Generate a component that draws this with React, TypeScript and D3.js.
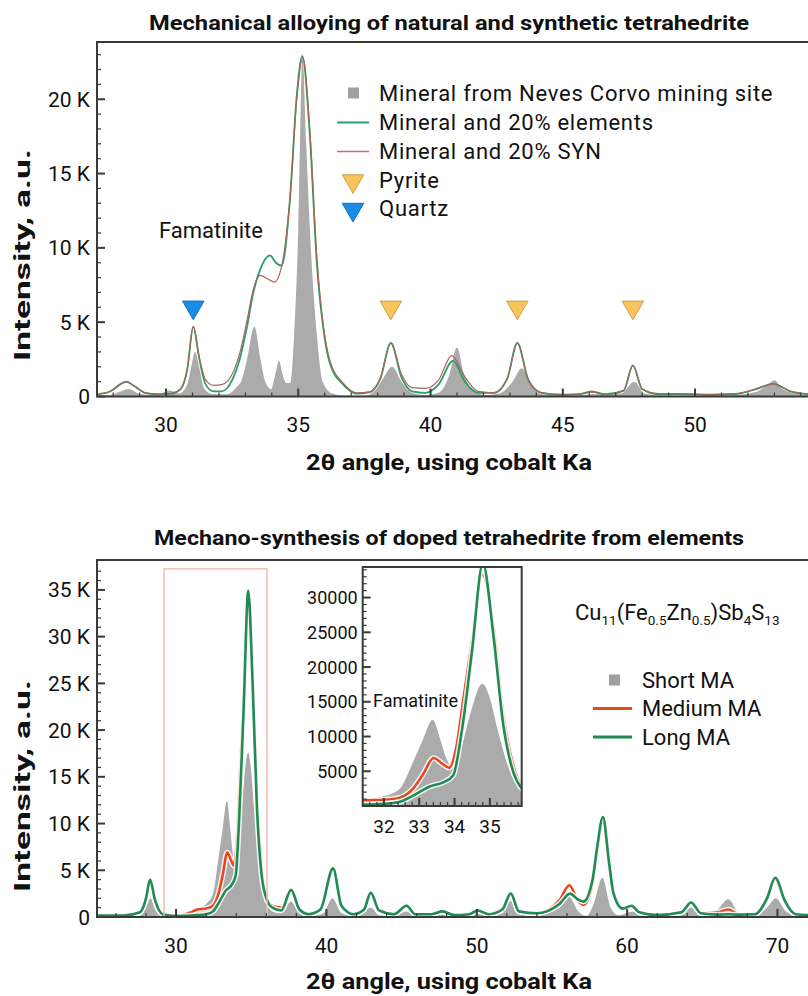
import React, { useRef, useEffect } from "react";
import * as d3 from "d3";

// ---- top panel: 2θ (deg) vs intensity (K counts) ----
const mineralNevesCorvo = [
  [27.4, 0.05], [27.9, 0.1], [28.3, 0.35], [28.6, 0.5], [28.95, 0.2], [29.4, 0.1], [29.8, 0.2], [30.15, 0.4],
  [30.5, 0.2], [30.8, 0.8], [30.95, 2.0], [31.1, 3.0], [31.25, 2.0], [31.45, 0.5], [31.8, 0.15], [32.3, 0.15],
  [32.7, 0.7], [32.86, 1.1], [33.05, 2.4], [33.34, 4.7], [33.58, 2.4], [33.75, 1.0], [33.97, 0.5], [34.12, 1.4],
  [34.27, 2.4], [34.42, 1.4], [34.55, 0.9], [34.69, 0.9], [34.85, 4.4], [35.0, 11.2], [35.16, 23.0], [35.3, 17],
  [35.44, 11.2], [35.69, 4.4], [35.92, 1.0], [36.3, 0.2], [36.8, 0.05], [37.5, 0.05], [37.9, 0.4], [38.2, 1.2],
  [38.55, 2.0], [38.9, 1.0], [39.3, 0.25], [39.8, 0.1], [40.3, 0.25], [40.7, 1.4], [41.0, 3.3], [41.25, 1.6],
  [41.6, 0.4], [42.1, 0.1], [42.6, 0.2], [43.1, 1.0], [43.45, 1.9], [43.8, 0.8], [44.2, 0.15], [45.0, 0.05],
  [46.1, 0.15], [47.2, 0.2], [47.7, 1.0], [48.1, 0.2], [48.8, 0.05], [51.0, 0.05], [52.3, 0.3], [52.75, 0.8],
  [53.0, 1.1], [53.3, 0.5], [53.8, 0.2], [54.3, 0.1],
];
const mineral20Elements = [
  [27.4, 0.15], [27.9, 0.35], [28.25, 0.8], [28.5, 1.0], [28.8, 0.7], [29.2, 0.25], [29.7, 0.15], [30.2, 0.2],
  [30.55, 0.5], [30.8, 1.8], [31.03, 4.7], [31.25, 2.6], [31.5, 0.8], [31.8, 0.35], [32.1, 0.35], [32.5, 1.1],
  [32.8, 2.6], [33.05, 4.6], [33.3, 7.0], [33.55, 8.5], [33.93, 9.5], [34.15, 9.0], [34.37, 8.8], [34.69, 13.4],
  [34.94, 20.2], [35.15, 22.9], [35.44, 17.5], [35.7, 9.0], [35.96, 4.4], [36.2, 2.2], [36.7, 0.8], [37.2, 0.2],
  [37.7, 0.3], [38.1, 1.2], [38.5, 3.6], [38.9, 1.3], [39.3, 0.35], [39.8, 0.25], [40.3, 0.8], [40.85, 2.4],
  [41.3, 1.0], [41.8, 0.25], [42.4, 0.25], [42.9, 1.2], [43.28, 3.6], [43.7, 1.1], [44.2, 0.25], [45.0, 0.1],
  [45.6, 0.15], [46.1, 0.35], [46.6, 0.15], [47.3, 0.4], [47.65, 2.1], [48.0, 0.5], [48.6, 0.15], [49.5, 0.15],
  [50.5, 0.1], [51.5, 0.15], [52.3, 0.5], [52.95, 0.85], [53.6, 0.35], [54.3, 0.15],
];
const mineral20Syn = [
  [27.4, 0.15], [27.9, 0.35], [28.25, 0.8], [28.5, 1.0], [28.8, 0.7], [29.2, 0.25], [29.7, 0.15], [30.2, 0.2],
  [30.55, 0.5], [30.8, 1.8], [31.03, 4.7], [31.25, 2.7], [31.5, 1.1], [31.8, 0.75], [32.1, 0.8], [32.5, 1.5],
  [32.8, 3.0], [33.05, 5.0], [33.3, 7.2], [33.55, 8.15], [33.85, 7.9], [34.1, 7.7], [34.35, 8.6], [34.69, 13.4],
  [34.94, 20.0], [35.17, 22.8], [35.44, 17.8], [35.7, 9.4], [35.96, 4.6], [36.2, 2.4], [36.7, 0.9], [37.2, 0.25],
  [37.7, 0.3], [38.1, 1.2], [38.5, 3.6], [38.9, 1.5], [39.3, 0.6], [39.8, 0.55], [40.3, 1.1], [40.8, 2.75],
  [41.3, 1.3], [41.8, 0.35], [42.4, 0.25], [42.9, 1.2], [43.28, 3.6], [43.7, 1.1], [44.2, 0.25], [45.0, 0.15],
  [45.6, 0.15], [46.1, 0.3], [46.6, 0.15], [47.3, 0.4], [47.65, 2.1], [48.0, 0.5], [48.6, 0.2], [49.5, 0.2],
  [50.5, 0.15], [51.5, 0.2], [52.3, 0.5], [52.95, 0.85], [53.6, 0.35], [54.3, 0.15],
];
const pyritePeaks = [38.5, 43.28, 47.65];
const quartzPeaks = [31.03];
const markerLevel = 6.0;
const topXTicks = [30, 35, 40, 45, 50];
const topYTicks = [0, 5, 10, 15, 20];
const topLegend = [
  "Mineral from Neves Corvo mining site",
  "Mineral and 20% elements",
  "Mineral and 20% SYN",
  "Pyrite",
  "Quartz",
];

// ---- bottom panel ----
const shortMA = [
  [24.7, 0.05], [26.0, 0.1], [27.5, 0.2], [28.0, 1.0], [28.3, 2.0], [28.6, 0.8], [29.2, 0.1], [30.5, 0.1],
  [31.0, 0.4], [31.4, 0.85], [32.0, 1.4], [32.45, 2.5], [32.83, 6.4], [33.1, 9.5], [33.38, 12.4], [33.6, 9.5],
  [33.77, 6.8], [34.0, 5.4], [34.2, 8.5], [34.43, 13.0], [34.79, 17.6], [35.0, 15.5], [35.19, 11.6], [35.57, 4.95],
  [35.94, 2.1], [36.4, 0.6], [37.0, 0.4], [37.65, 1.65], [38.2, 0.4], [39.0, 0.1], [39.8, 0.4], [40.4, 2.0],
  [41.0, 0.4], [42.0, 0.1], [42.95, 1.0], [43.5, 0.2], [44.5, 0.1], [45.33, 0.6], [46.0, 0.1], [47.0, 0.1],
  [47.7, 0.4], [48.5, 0.05], [49.3, 0.1], [50.06, 0.5], [50.7, 0.1], [51.7, 0.4], [52.26, 1.7], [52.8, 0.3],
  [54.0, 0.2], [55.5, 1.0], [56.1, 2.2], [56.8, 0.5], [57.3, 0.1], [57.8, 1.5], [58.35, 4.2], [58.9, 1.0],
  [59.4, 0.2], [60.44, 0.6], [61.0, 0.2], [62.5, 0.1], [63.6, 0.3], [64.26, 1.0], [64.9, 0.2], [66.0, 0.8],
  [66.74, 1.9], [67.4, 0.5], [68.2, 0.2], [69.3, 1.0], [69.9, 2.0], [70.5, 0.7], [71.2, 0.2], [72.05, 0.1],
];
const mediumMA = [
  [24.7, 0.15], [26.5, 0.15], [27.6, 0.5], [28.0, 2.0], [28.27, 3.9], [28.6, 1.8], [29.1, 0.3], [30.0, 0.1],
  [31.0, 0.5], [31.4, 0.8], [32.0, 0.9], [32.45, 1.2], [32.83, 2.55], [33.1, 4.5], [33.41, 6.9], [33.65, 6.1],
  [33.85, 5.5], [34.05, 8.5], [34.25, 15.4], [34.49, 23.6], [34.79, 33.3], [35.1, 25.9], [35.38, 13.0], [35.66, 5.9],
  [35.94, 2.5], [36.4, 1.2], [37.0, 1.0], [37.65, 2.8], [38.2, 0.9], [38.8, 0.4], [39.6, 0.8], [40.44, 5.2],
  [41.0, 1.2], [41.8, 0.3], [42.5, 0.8], [42.95, 2.6], [43.5, 0.7], [44.5, 0.3], [45.33, 1.2], [45.9, 0.3],
  [47.0, 0.3], [47.71, 0.6], [48.5, 0.2], [49.5, 0.3], [50.06, 0.7], [50.8, 0.3], [51.7, 0.9], [52.26, 2.6],
  [52.8, 0.6], [54.0, 0.4], [55.5, 1.8], [56.16, 3.4], [56.7, 1.8], [57.1, 1.3], [57.7, 3.5], [58.0, 6.8],
  [58.39, 10.1], [58.8, 5.5], [59.1, 2.4], [59.7, 0.9], [60.3, 1.1], [60.8, 0.5], [62.0, 0.2], [63.6, 0.5],
  [64.26, 1.5], [64.9, 0.4], [66.0, 0.5], [66.74, 0.8], [67.4, 0.3], [68.5, 0.3], [69.3, 1.8], [69.85, 3.9],
  [70.5, 1.6], [71.2, 0.3], [72.05, 0.2],
];
const longMA = [
  [24.7, 0.15], [26.5, 0.15], [27.6, 0.5], [28.0, 2.0], [28.27, 4.0], [28.6, 1.8], [29.1, 0.3], [30.0, 0.1],
  [31.0, 0.15], [31.4, 0.2], [32.0, 0.3], [32.45, 0.6], [32.83, 1.5], [33.3, 2.8], [33.68, 3.4], [33.96, 4.4],
  [34.2, 10.6], [34.49, 22.1], [34.8, 34.9], [35.1, 24.5], [35.38, 11.6], [35.66, 4.9], [35.94, 2.3], [36.4, 1.0],
  [37.0, 0.7], [37.65, 2.9], [38.2, 0.8], [38.8, 0.3], [39.6, 0.8], [40.44, 5.2], [41.0, 1.2], [41.8, 0.3],
  [42.5, 0.8], [42.95, 2.6], [43.5, 0.7], [44.5, 0.3], [45.33, 1.2], [45.9, 0.3], [47.0, 0.3], [47.71, 0.6],
  [48.5, 0.2], [49.5, 0.3], [50.06, 0.7], [50.8, 0.3], [51.7, 0.8], [52.26, 2.5], [52.8, 0.6], [54.0, 0.4],
  [55.5, 1.4], [56.2, 2.5], [56.7, 1.9], [57.1, 1.65], [57.7, 4.0], [58.0, 7.4], [58.39, 10.7], [58.8, 5.8],
  [59.1, 2.5], [59.7, 0.9], [60.3, 1.2], [60.8, 0.5], [62.0, 0.2], [63.6, 0.5], [64.26, 1.55], [64.9, 0.4],
  [66.0, 0.25], [66.74, 0.3], [67.4, 0.25], [68.5, 0.3], [69.3, 2.0], [69.85, 4.2], [70.5, 1.7], [71.2, 0.3],
  [72.05, 0.2],
];
const bottomXTicks = [30, 40, 50, 60, 70];
const bottomYTicks = [0, 5, 10, 15, 20, 25, 30, 35];
const insetXTicks = [32, 33, 34, 35];
const insetYTicks = [5000, 10000, 15000, 20000, 25000, 30000];
const zoomWindow = { x0: 29.2, x1: 36.05, top: 37.25 };
const bottomLegend = ["Short MA", "Medium MA", "Long MA"];

const GRAY = "#ababab";
const FRAME = "#3a3a3a";
const FONT = "Roboto, 'Noto Sans', sans-serif";

function ticksY(g, y, x0, majors, minors, fmt, size, pad) {
  g.selectAll(null).data(minors).enter().append("line")
    .attr("x1", x0).attr("x2", x0 + 4).attr("y1", d => y(d)).attr("y2", d => y(d))
    .attr("stroke", FRAME).attr("stroke-width", 1.2);
  g.selectAll(null).data(majors).enter().append("line")
    .attr("x1", x0).attr("x2", x0 + 8).attr("y1", d => y(d)).attr("y2", d => y(d))
    .attr("stroke", FRAME).attr("stroke-width", 2);
  g.selectAll(null).data(majors).enter().append("text")
    .attr("x", x0 - pad).attr("y", d => y(d)).attr("dy", "0.36em")
    .attr("text-anchor", "end").attr("font-size", size).attr("fill", "#111")
    .text(fmt);
}

function ticksX(g, x, y0, majors, minors, size, pad) {
  g.selectAll(null).data(minors).enter().append("line")
    .attr("x1", d => x(d)).attr("x2", d => x(d)).attr("y1", y0).attr("y2", y0 - 4)
    .attr("stroke", FRAME).attr("stroke-width", 1.2);
  g.selectAll(null).data(majors).enter().append("line")
    .attr("x1", d => x(d)).attr("x2", d => x(d)).attr("y1", y0).attr("y2", y0 - 8)
    .attr("stroke", FRAME).attr("stroke-width", 2);
  g.selectAll(null).data(majors).enter().append("text")
    .attr("x", d => x(d)).attr("y", y0 + pad).attr("dy", "0.36em")
    .attr("text-anchor", "middle").attr("font-size", size).attr("fill", "#111")
    .text(d => d);
}

// bold heading stretched to the width it takes in the source figure
function heading(g, cx, cy, text, size, width) {
  g.append("text").attr("x", cx - width / 2).attr("y", cy).attr("dy", "0.36em")
    .attr("font-size", size).attr("font-weight", "bold").attr("fill", "#111")
    .attr("textLength", width).attr("lengthAdjust", "spacingAndGlyphs")
    .text(text);
}

function yLabel(g, cx, cy) {
  g.append("text").attr("transform", `translate(${cx},${cy}) rotate(-90)`)
    .attr("x", -106).attr("dy", "0.36em")
    .attr("font-size", 22).attr("font-weight", "bold").attr("fill", "#111")
    .attr("textLength", 212).attr("lengthAdjust", "spacingAndGlyphs")
    .text("Intensity, a.u.");
}

function drawTop(g) {
  const x = d3.scaleLinear().domain([27.39, 54.27]).range([97, 808]);
  const y = d3.scaleLinear().domain([0, 23.85]).range([396.5, 42]);
  const [xl, xr] = x.range();
  const [yb, yt] = y.range();

  g.append("clipPath").attr("id", "clipTop").append("rect")
    .attr("x", xl).attr("y", yt).attr("width", xr - xl).attr("height", yb - yt);

  const area = d3.area().x(d => x(d[0])).y0(y(0)).y1(d => y(d[1])).curve(d3.curveMonotoneX);
  const line = d3.line().x(d => x(d[0])).y(d => y(d[1])).curve(d3.curveMonotoneX);
  const plot = g.append("g").attr("clip-path", "url(#clipTop)");
  plot.append("path").datum(mineralNevesCorvo).attr("d", area).attr("fill", GRAY);
  plot.append("path").datum(mineral20Elements).attr("d", line).attr("fill", "none")
    .attr("stroke", "#2f9c6b").attr("stroke-width", 1.8);
  plot.append("path").datum(mineral20Syn).attr("d", line).attr("fill", "none")
    .attr("stroke", "#a8655d").attr("stroke-width", 1.2);

  const tri = d3.symbol().type(d3.symbolTriangle).size(200);
  g.selectAll(null).data(pyritePeaks).enter().append("path")
    .attr("d", tri).attr("transform", d => `translate(${x(d)},${y(markerLevel)}) rotate(180)`)
    .attr("fill", "#f8c45c").attr("stroke", "#c9a050").attr("stroke-width", 1);
  g.selectAll(null).data(quartzPeaks).enter().append("path")
    .attr("d", tri).attr("transform", d => `translate(${x(d)},${y(markerLevel)}) rotate(180)`)
    .attr("fill", "#1a8ce6").attr("stroke", "#0f6fc0").attr("stroke-width", 1);

  // frame
  g.append("path").attr("d", `M${xr},${yt}H${xl}V${yb}H${xr}`)
    .attr("fill", "none").attr("stroke", FRAME).attr("stroke-width", 2);

  const yMinor = d3.range(1, 24, 1).filter(v => v % 5 !== 0);
  ticksY(g, y, xl, topYTicks, yMinor, d => (d === 0 ? "0" : `${d} K`), 21, 7);
  const xMinor = d3.range(28, 55, 1).filter(v => v % 5 !== 0);
  ticksX(g, x, yb, topXTicks, xMinor, 21, 28);

  g.append("text").attr("x", 211).attr("y", 230).attr("dy", "0.36em").attr("text-anchor", "middle")
    .attr("font-size", 22).attr("fill", "#111").text("Famatinite");

  // legend
  const lg = g.append("g");
  const rowY = [93, 122.5, 151.5, 180, 208.5];
  lg.append("rect").attr("x", 348).attr("y", rowY[0] - 5.5).attr("width", 11).attr("height", 11).attr("fill", "#a0a0a0");
  lg.append("line").attr("x1", 337).attr("x2", 369).attr("y1", rowY[1]).attr("y2", rowY[1])
    .attr("stroke", "#2f9c6b").attr("stroke-width", 2);
  lg.append("line").attr("x1", 337).attr("x2", 369).attr("y1", rowY[2]).attr("y2", rowY[2])
    .attr("stroke", "#b07a72").attr("stroke-width", 1.5);
  lg.append("path").attr("d", tri).attr("transform", `translate(353,${rowY[3] + 1}) rotate(180)`)
    .attr("fill", "#f8c45c").attr("stroke", "#c9a050");
  lg.append("path").attr("d", tri).attr("transform", `translate(353,${rowY[4] + 1}) rotate(180)`)
    .attr("fill", "#1a8ce6").attr("stroke", "#0f6fc0");
  lg.selectAll(null).data(topLegend).enter().append("text")
    .attr("x", 379).attr("y", (d, i) => rowY[i]).attr("dy", "0.36em")
    .attr("font-size", 22).attr("letter-spacing", 0.75).attr("fill", "#111").text(d => d);

  heading(g, 449, 22, "Mechanical alloying of natural and synthetic tetrahedrite", 21, 600);
  heading(g, 449, 462, "2θ angle, using cobalt Ka", 22, 286);
  yLabel(g, 22, 255);
}

function drawSeries(plot, data, line, color, width) {
  plot.append("path").datum(data).attr("d", line).attr("fill", "none")
    .attr("stroke", "#fff").attr("stroke-opacity", 0.85).attr("stroke-width", width + 3);
  plot.append("path").datum(data).attr("d", line).attr("fill", "none")
    .attr("stroke", color).attr("stroke-width", width);
}

function drawBottom(g) {
  const x = d3.scaleLinear().domain([24.74, 72.03]).range([97, 808]);
  const y = d3.scaleLinear().domain([0, 38.2]).range([917, 560]);
  const [xl, xr] = x.range();
  const [yb, yt] = y.range();

  g.append("clipPath").attr("id", "clipBot").append("rect")
    .attr("x", xl).attr("y", yt).attr("width", xr - xl).attr("height", yb - yt);

  const area = d3.area().x(d => x(d[0])).y0(y(0)).y1(d => y(d[1])).curve(d3.curveMonotoneX);
  const line = d3.line().x(d => x(d[0])).y(d => y(d[1])).curve(d3.curveMonotoneX);
  const plot = g.append("g").attr("clip-path", "url(#clipBot)");
  plot.append("path").datum(shortMA).attr("d", area).attr("fill", GRAY);
  drawSeries(plot, mediumMA, line, "#e8461e", 2.6);
  drawSeries(plot, longMA, line, "#1f8b55", 2.6);

  plot.append("rect").attr("x", x(zoomWindow.x0)).attr("y", y(zoomWindow.top))
    .attr("width", x(zoomWindow.x1) - x(zoomWindow.x0)).attr("height", y(0) - y(zoomWindow.top))
    .attr("fill", "none").attr("stroke", "#f3bcb3").attr("stroke-width", 1.5);

  g.append("path").attr("d", `M${xr},${yt}H${xl}V${yb}H${xr}`)
    .attr("fill", "none").attr("stroke", FRAME).attr("stroke-width", 2);

  const yMinor = d3.range(1, 38, 1).filter(v => v % 5 !== 0);
  ticksY(g, y, xl, bottomYTicks, yMinor, d => (d === 0 ? "0" : `${d} K`), 21, 7);
  const xMinor = d3.range(26, 72, 2).filter(v => v % 10 !== 0);
  ticksX(g, x, yb, bottomXTicks, xMinor, 21, 28);

  // inset
  const ix = d3.scaleLinear().domain([31.4, 35.9]).range([362.7, 521.7]);
  const iy = d3.scaleLinear().domain([0, 34400]).range([806, 567]);
  const [ixl, ixr] = ix.range();
  const [iyb, iyt] = iy.range();
  g.append("rect").attr("x", ixl).attr("y", iyt).attr("width", ixr - ixl).attr("height", iyb - iyt)
    .attr("fill", "#fff");
  g.append("clipPath").attr("id", "clipInset").append("rect")
    .attr("x", ixl).attr("y", iyt).attr("width", ixr - ixl).attr("height", iyb - iyt);
  const inRange = d => d[0] >= 31.0 && d[0] <= 36.4;
  const iArea = d3.area().x(d => ix(d[0])).y0(iy(0)).y1(d => iy(d[1] * 1000)).curve(d3.curveMonotoneX);
  const iLine = d3.line().x(d => ix(d[0])).y(d => iy(d[1] * 1000)).curve(d3.curveMonotoneX);
  const ip = g.append("g").attr("clip-path", "url(#clipInset)");
  ip.append("path").datum(shortMA.filter(inRange)).attr("d", iArea).attr("fill", GRAY);
  drawSeries(ip, mediumMA.filter(inRange), iLine, "#e8461e", 2.6);
  drawSeries(ip, longMA.filter(inRange), iLine, "#1f8b55", 2.6);
  g.append("rect").attr("x", ixl).attr("y", iyt).attr("width", ixr - ixl).attr("height", iyb - iyt)
    .attr("fill", "none").attr("stroke", FRAME).attr("stroke-width", 2);
  const iyMinor = d3.range(1000, 34400, 1000).filter(v => v % 5000 !== 0);
  ticksY(g, iy, ixl, insetYTicks, iyMinor, d => d, 18, 5);
  const ixMinor = d3.range(31.6, 35.9, 0.2).filter(v => Math.abs(v - Math.round(v)) > 0.05);
  ticksX(g, ix, iyb, insetXTicks, ixMinor, 19, 20);
  g.append("text").attr("x", 373).attr("y", 701).attr("dy", "0.36em")
    .attr("font-size", 18).attr("fill", "#111").text("Famatinite");

  // formula
  const f = g.append("text").attr("x", 575).attr("y", 620).attr("font-size", 22).attr("fill", "#111");
  const parts = [["Cu", 0], ["11", 1], ["(Fe", 0], ["0.5", 1], ["Zn", 0], ["0.5", 1], [")Sb", 0], ["4", 1], ["S", 0], ["13", 1]];
  let prev = 0;
  parts.forEach(([t, sub]) => {
    f.append("tspan").attr("dy", sub ? 5 : prev ? -5 : 0).attr("font-size", sub ? 13.5 : 22).text(t);
    prev = sub;
  });

  // legend
  const rowY = [680, 708.5, 737];
  g.append("rect").attr("x", 609).attr("y", rowY[0] - 5.5).attr("width", 11).attr("height", 11).attr("fill", "#a0a0a0");
  g.append("line").attr("x1", 593).attr("x2", 632).attr("y1", rowY[1]).attr("y2", rowY[1])
    .attr("stroke", "#e8461e").attr("stroke-width", 3);
  g.append("line").attr("x1", 593).attr("x2", 632).attr("y1", rowY[2]).attr("y2", rowY[2])
    .attr("stroke", "#1f8b55").attr("stroke-width", 3);
  g.selectAll(null).data(bottomLegend).enter().append("text")
    .attr("x", 642).attr("y", (d, i) => rowY[i]).attr("dy", "0.36em")
    .attr("font-size", 22).attr("fill", "#111").text(d => d);

  heading(g, 449, 537, "Mechano-synthesis of doped tetrahedrite from elements", 21, 590);
  heading(g, 449, 981, "2θ angle, using cobalt Ka", 22, 286);
  yLabel(g, 22, 786);
}

export default function App() {
  const chart = useRef(null);

  useEffect(() => {
    const svg = d3.select(chart.current);
    svg.selectAll("*").remove();
    drawTop(svg.append("g"));
    drawBottom(svg.append("g"));
  }, []);

  return (
    <svg
      ref={chart}
      width={808}
      height={996}
      fontFamily={FONT}
      style={{ position: "absolute", left: 0, top: 0, background: "#fff" }}
    ></svg>
  );
}
